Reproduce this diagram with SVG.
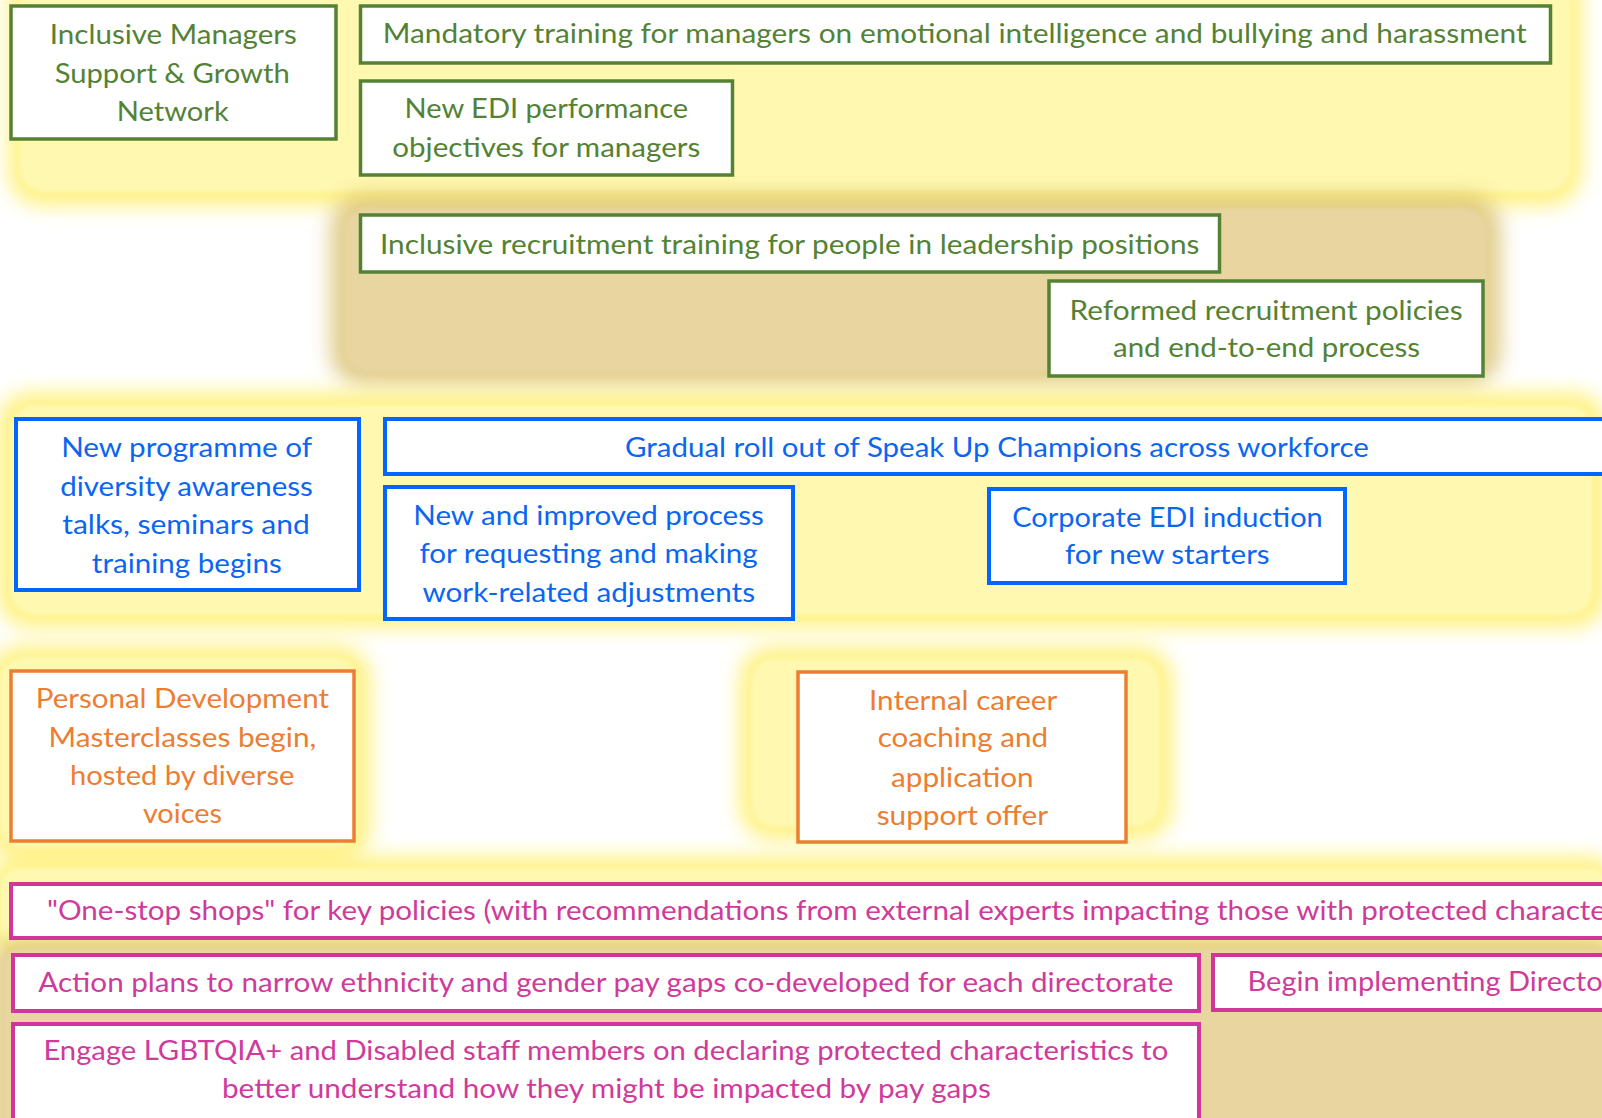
<svg xmlns="http://www.w3.org/2000/svg" width="1602" height="1118" viewBox="0 0 1602 1118">
  <defs>
    <style>
      .t { font-family: Lato, "Liberation Sans", "DejaVu Sans", sans-serif; font-size: 27px; }
      .tg { fill: #548235; }
      .tb { fill: #0A66F2; }
      .to { fill: #ED7D31; }
      .tm { fill: #CF3A9B; }
      .bg { fill: #ffffff; stroke: #548235; stroke-width: 3.5; }
      .bb { fill: #ffffff; stroke: #0066FF; stroke-width: 4; }
      .bo { fill: #ffffff; stroke: #ED7D31; stroke-width: 3.5; }
      .bm { fill: #ffffff; stroke: #D1369A; stroke-width: 4; }
      .glowY { fill: #FFEF6E; opacity: 0.85; }
      .glowT { fill: #D8BE66; opacity: 0.75; }
      .fillY { fill: #FFF8B0; }
      .fillT { fill: #E8D5A0; }
    </style>
    <filter id="soft" filterUnits="userSpaceOnUse" x="-200" y="-200" width="2000" height="1520">
      <feGaussianBlur stdDeviation="10"/>
    </filter>
    <filter id="edge" filterUnits="userSpaceOnUse" x="-200" y="-200" width="2000" height="1520">
      <feGaussianBlur stdDeviation="2"/>
    </filter>
  </defs>

  <rect x="0" y="0" width="1602" height="1118" fill="#ffffff"/>

  <!-- soft highlight bands behind each theme -->
  <g id="bands">
    <!-- managers band -->
    <rect class="glowY" x="8" y="-40" width="1574" height="246" rx="34" filter="url(#soft)"/>
    <rect class="fillY" x="19" y="-30" width="1552" height="222" rx="25" filter="url(#edge)"/>
    <!-- recruitment band -->
    <rect class="glowT" x="330" y="194" width="1171" height="192" rx="34" filter="url(#soft)"/>
    <rect class="fillT" x="344" y="208" width="1143" height="164" rx="25" filter="url(#edge)"/>
    <!-- wellbeing band -->
    <rect class="glowY" x="-3" y="392" width="1610" height="236" rx="34" filter="url(#soft)"/>
    <rect class="fillY" x="10" y="405" width="1583" height="210" rx="25" filter="url(#edge)"/>
    <!-- development bands -->
    <rect class="glowY" x="-12" y="645" width="383" height="216" rx="34" filter="url(#soft)"/>
    <rect class="fillY" x="0" y="657" width="358" height="192" rx="25" filter="url(#edge)"/>
    <rect class="glowY" x="739" y="646" width="434" height="194" rx="34" filter="url(#soft)"/>
    <rect class="fillY" x="751" y="658" width="409" height="169" rx="25" filter="url(#edge)"/>
    <!-- policy band -->
    <rect class="glowY" x="-12" y="856" width="1630" height="100" rx="30" filter="url(#soft)"/>
    <rect class="fillY" x="0" y="868" width="1610" height="80" rx="20" filter="url(#edge)"/>
    <!-- pay gap band -->
    <rect class="glowT" x="-10" y="938" width="1630" height="220" rx="30" filter="url(#soft)"/>
    <rect class="fillT" x="3" y="948" width="1610" height="200" rx="20" filter="url(#edge)"/>
  </g>

  <g id="connectors"></g>

  <!-- managers -->
  <g id="node-managers-network">
    <rect class="bg" x="11" y="6" width="325" height="133"/>
    <text class="t tg" x="49.8" y="44" textLength="247" lengthAdjust="spacingAndGlyphs">Inclusive Managers</text>
    <text class="t tg" x="54.7" y="82.7" textLength="235" lengthAdjust="spacingAndGlyphs">Support &amp; Growth</text>
    <text class="t tg" x="116.7" y="120.7" textLength="112" lengthAdjust="spacingAndGlyphs">Network</text>
  </g>
  <g id="node-mandatory-training">
    <rect class="bg" x="360.5" y="6" width="1190" height="57"/>
    <text class="t tg" x="382.7" y="43.3" textLength="1144" lengthAdjust="spacingAndGlyphs">Mandatory training for managers on emotional intelligence and bullying and harassment</text>
  </g>
  <g id="node-edi-objectives">
    <rect class="bg" x="360.5" y="81" width="372" height="94"/>
    <text class="t tg" x="404.5" y="118" textLength="283.6" lengthAdjust="spacingAndGlyphs">New EDI performance</text>
    <text class="t tg" x="392.3" y="156.7" textLength="308" lengthAdjust="spacingAndGlyphs">objectives for managers</text>
  </g>

  <!-- recruitment -->
  <g id="node-recruitment-training">
    <rect class="bg" x="360.5" y="215" width="859" height="57"/>
    <text class="t tg" x="380" y="254" textLength="819.4" lengthAdjust="spacingAndGlyphs">Inclusive recruitment training for people in leadership positions</text>
  </g>
  <g id="node-recruitment-policies">
    <rect class="bg" x="1049" y="281" width="434" height="95"/>
    <text class="t tg" x="1069.6" y="320" textLength="393" lengthAdjust="spacingAndGlyphs">Reformed recruitment policies</text>
    <text class="t tg" x="1113" y="357" textLength="307" lengthAdjust="spacingAndGlyphs">and end-to-end process</text>
  </g>

  <!-- wellbeing and awareness -->
  <g id="node-diversity-awareness">
    <rect class="bb" x="16" y="419" width="343" height="171"/>
    <text class="t tb" x="61.2" y="457.3" textLength="251" lengthAdjust="spacingAndGlyphs">New programme of</text>
    <text class="t tb" x="60.2" y="496" textLength="252.6" lengthAdjust="spacingAndGlyphs">diversity awareness</text>
    <text class="t tb" x="62.2" y="534" textLength="247.5" lengthAdjust="spacingAndGlyphs">talks, seminars and</text>
    <text class="t tb" x="91.8" y="572.7" textLength="190" lengthAdjust="spacingAndGlyphs">training begins</text>
  </g>
  <g id="node-speak-up">
    <rect class="bb" x="385" y="419" width="1260" height="55"/>
    <text class="t tb" x="625" y="456.7" textLength="743.8" lengthAdjust="spacingAndGlyphs">Gradual roll out of Speak Up Champions across workforce</text>
  </g>
  <g id="node-adjustments">
    <rect class="bb" x="385" y="487" width="408" height="132"/>
    <text class="t tb" x="413.3" y="525" textLength="350.5" lengthAdjust="spacingAndGlyphs">New and improved process</text>
    <text class="t tb" x="419.4" y="563.3" textLength="338.3" lengthAdjust="spacingAndGlyphs">for requesting and making</text>
    <text class="t tb" x="422.4" y="601.7" textLength="332.6" lengthAdjust="spacingAndGlyphs">work-related adjustments</text>
  </g>
  <g id="node-induction">
    <rect class="bb" x="989" y="489" width="356" height="94"/>
    <text class="t tb" x="1012.3" y="526.7" textLength="310.5" lengthAdjust="spacingAndGlyphs">Corporate EDI induction</text>
    <text class="t tb" x="1065" y="564.3" textLength="204.6" lengthAdjust="spacingAndGlyphs">for new starters</text>
  </g>

  <!-- development -->
  <g id="node-masterclasses">
    <rect class="bo" x="11" y="671" width="343" height="170"/>
    <text class="t to" x="35.7" y="708.3" textLength="293.3" lengthAdjust="spacingAndGlyphs">Personal Development</text>
    <text class="t to" x="48.5" y="746.7" textLength="267.8" lengthAdjust="spacingAndGlyphs">Masterclasses begin,</text>
    <text class="t to" x="69.9" y="785" textLength="224.5" lengthAdjust="spacingAndGlyphs">hosted by diverse</text>
    <text class="t to" x="142.9" y="823.3" textLength="79" lengthAdjust="spacingAndGlyphs">voices</text>
  </g>
  <g id="node-career-coaching">
    <rect class="bo" x="798" y="672" width="328" height="170"/>
    <text class="t to" x="869" y="710" textLength="188.3" lengthAdjust="spacingAndGlyphs">Internal career</text>
    <text class="t to" x="877.7" y="746.7" textLength="170.3" lengthAdjust="spacingAndGlyphs">coaching and</text>
    <text class="t to" x="891" y="786.7" textLength="142.7" lengthAdjust="spacingAndGlyphs">application</text>
    <text class="t to" x="876.7" y="825" textLength="171.3" lengthAdjust="spacingAndGlyphs">support offer</text>
  </g>

  <!-- policy and pay gaps -->
  <g id="node-one-stop-shops">
    <rect class="bm" x="11" y="884" width="1640" height="54"/>
    <text class="t tm" x="47" y="920" textLength="1559" lengthAdjust="spacingAndGlyphs">"One-stop shops" for key policies (with recommendations from external experts impacting those with protected characte</text>
  </g>
  <g id="node-action-plans">
    <rect class="bm" x="13" y="955" width="1186" height="56"/>
    <text class="t tm" x="38.3" y="991.7" textLength="1135" lengthAdjust="spacingAndGlyphs">Action plans to narrow ethnicity and gender pay gaps co-developed for each directorate</text>
  </g>
  <g id="node-directorate-plans">
    <rect class="bm" x="1213" y="955" width="450" height="55"/>
    <text class="t tm" x="1247.6" y="991" textLength="355" lengthAdjust="spacingAndGlyphs">Begin implementing Directo</text>
  </g>
  <g id="node-engage-staff">
    <rect class="bm" x="13" y="1024" width="1186" height="120"/>
    <text class="t tm" x="43.4" y="1060" textLength="1124.9" lengthAdjust="spacingAndGlyphs">Engage LGBTQIA+ and Disabled staff members on declaring protected characteristics to</text>
    <text class="t tm" x="222" y="1098.3" textLength="768.8" lengthAdjust="spacingAndGlyphs">better understand how they might be impacted by pay gaps</text>
  </g>
</svg>
